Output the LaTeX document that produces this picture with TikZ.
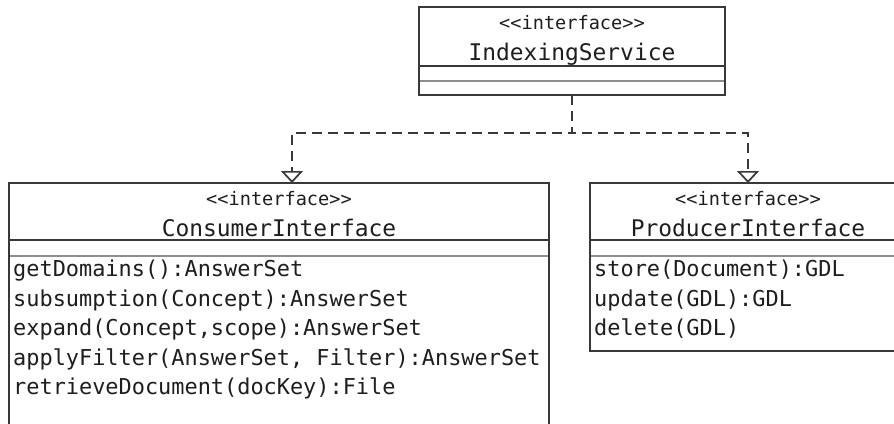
\documentclass[tikz,border=0pt]{standalone}
\usepackage{fontspec}
\setmonofont{DejaVu Sans Mono}
\usetikzlibrary{arrows.meta, positioning}
\definecolor{umlline}{HTML}{383838}
\definecolor{umlsep}{HTML}{8E8E8E}
\definecolor{umltext}{HTML}{1E1E1E}
\newcommand\umlstereo[1]{<\kern0pt<#1>\kern0pt>}
\tikzset{
  >={Triangle[open, length=12pt, width=22pt]},
  every picture/.style={line join=miter},
  % one compartment of a class box
  compart/.style={draw=umlline, line width=1.7pt, inner sep=0pt, outer sep=0pt, minimum width=#1},
  sepline/.style={umlsep, line width=1.7pt, shorten <=0.85pt, shorten >=0.85pt},
  stereo/.style={anchor=base, inner sep=0pt, text=umltext, font=\ttfamily\fontsize{18.6}{22}\selectfont},
  cname/.style={anchor=base, inner sep=0pt, text=umltext, font=\ttfamily\fontsize{22.9}{27}\selectfont},
  oplist/.style={anchor=north west, align=left, inner xsep=4pt, inner ysep=4pt, text=umltext,
    font=\ttfamily\fontsize{21.9}{29.5}\selectfont},
  realize/.style={->, draw=umlline, line width=1.7pt, dash pattern=on 10pt off 6pt},
}

\begin{document}
\begin{tikzpicture}[x=1pt, y=-1pt]
  \fill[white] (0,0) rectangle (894,423);
  \useasboundingbox (0,0) rectangle (894,423);
  \clip (0,0) rectangle (894,423);
  % ---- IndexingService
  \node[compart=306pt, minimum height=59pt, anchor=north west] (idx) at (419,7) {};
  \node[compart=306pt, minimum height=15pt, below=0pt of idx] (idxattr) {};
  \node[compart=306pt, minimum height=14pt, below=0pt of idxattr] (idxops) {};
  \draw[sepline] (idxattr.south west) -- (idxattr.south east);
  \node[stereo] (idxst) at ([yshift=-22pt]idx.north) {\umlstereo{interface}};
  \node[cname] (idxname) at ([yshift=-53pt]idx.north) {IndexingService};
  % ---- ConsumerInterface (runs on below the page)
  \node[compart=540pt, minimum height=57pt, anchor=north west] (cons) at (9,183) {};
  \node[compart=540pt, minimum height=16pt, below=0pt of cons] (consattr) {};
  \node[compart=540pt, minimum height=200pt, below=0pt of consattr] (consops) {};
  \draw[sepline] (consattr.south west) -- (consattr.south east);
  \node[stereo] (consst) at ([yshift=-22pt]cons.north) {\umlstereo{interface}};
  \node[cname] (consname) at ([yshift=-53pt]cons.north) {ConsumerInterface};
  \node[oplist] (consoplist) at (consops.north west) {getDomains():AnswerSet\\
    subsumption(Concept):AnswerSet\\
    expand(Concept,scope):AnswerSet\\
    applyFilter(AnswerSet, Filter):AnswerSet\\
    retrieveDocument(docKey):File};
  % ---- ProducerInterface (right side cut by the page)
  \node[compart=316pt, minimum height=57pt, anchor=north west] (prod) at (590,183) {};
  \node[compart=316pt, minimum height=16pt, below=0pt of prod] (prodattr) {};
  \node[compart=316pt, minimum height=95pt, below=0pt of prodattr] (prodops) {};
  \draw[sepline] (prodattr.south west) -- (prodattr.south east);
  \node[stereo] (prodst) at ([yshift=-22pt]prod.north) {\umlstereo{interface}};
  \node[cname] (prodname) at ([yshift=-53pt]prod.north) {ProducerInterface};
  \node[oplist] (prodoplist) at (prodops.north west) {store(Document):GDL\\
    update(GDL):GDL\\
    delete(GDL)};
  % ---- realizations
  \draw[realize] (idxops.south) -- ++(0,38) -| ([xshift=13pt]cons.north);
  \draw[realize] (idxops.south) -- ++(0,38) -| (prod.north);
\end{tikzpicture}
\end{document}
